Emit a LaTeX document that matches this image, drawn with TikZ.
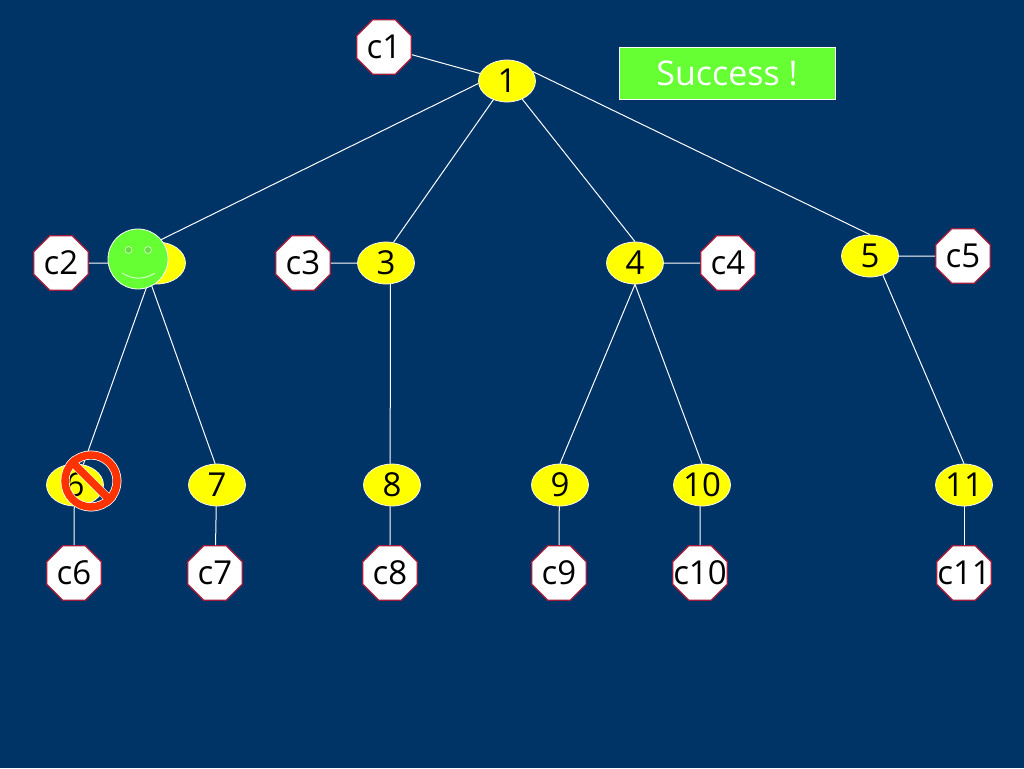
\documentclass[tikz,border=0pt]{standalone}
\usepackage{fontspec}
\setmainfont{Open Sans}
\usetikzlibrary{positioning}
\usetikzlibrary{shapes.geometric}
\definecolor{slidebg}{HTML}{003366}
\definecolor{okgreen}{HTML}{66FF33}
\definecolor{eyegreen}{HTML}{66DD44}
\definecolor{peeryellow}{HTML}{FFFF00}
\definecolor{stopred}{HTML}{FF3300}
\definecolor{clientred}{HTML}{A01C3C}
\newcommand{\widelabel}[1]{\makebox[20pt]{#1}}
\tikzset{
  peer/.style={ellipse,draw=white,line width=0.7pt,fill=peeryellow,text=black,
    minimum width=57pt,minimum height=42pt,inner sep=0pt,font=\fontsize{33}{33}\selectfont},
  client/.style={regular polygon,regular polygon sides=8,draw=clientred,line width=1.4pt,
    fill=white,text=black,minimum size=59pt,inner sep=0pt,font=\fontsize{33}{33}\selectfont},
  link/.style={draw=white,line width=1pt},
  stopring/.style={circle,minimum size=52pt,inner sep=0pt}
}

\begin{document}
\begin{tikzpicture}[x=1pt,y=-1pt,on grid]
    \fill[slidebg] (0,0) rectangle (1024,768);
    \useasboundingbox (0,0) rectangle (1024,768);

    \node[peer] (n1) at (507,81) {1};
    \node[peer,below left = 182pt and 350pt of n1] (n2) {};
    \node[peer,below left = 182pt and 121pt of n1] (n3) {3};
    \node[peer,below right = 182pt and 128pt of n1] (n4) {4};
    \node[peer,below right = 175pt and 363pt of n1] (n5) {5};
    \node[peer,below left = 222pt and 82pt of n2] (n6) {6};
    \node[peer,below right = 222pt and 60pt of n2] (n7) {7};
    \node[peer,below right = 222pt and 6pt of n3] (n8) {8};
    \node[peer,below left = 222pt and 75pt of n4] (n9) {9};
    \node[peer,below right = 222pt and 67pt of n4] (n10) {10};
    \node[peer,below right = 229pt and 94pt of n5] (n11) {11};

    \node[client,above left = 34pt and 123pt of n1] (c1) {c1};
    \node[client,left = 96pt of n2] (c2) {c2};
    \node[client,left = 83pt of n3] (c3) {c3};
    \node[client,right = 93pt of n4] (c4) {c4};
    \node[client,right = 93pt of n5] (c5) {c5};
    \node[client,below left = 88pt and 1pt of n6] (c6) {c6};
    \node[client,below left = 88pt and 2pt of n7] (c7) {c7};
    \node[client,below left = 88pt and 2pt of n8] (c8) {c8};
    \node[client,below left = 88pt and 1pt of n9] (c9) {c9};
    \node[client,below left = 88pt and 2pt of n10] (c10) {\widelabel{c10}};
    \node[client,below = 88pt of n11] (c11) {\widelabel{c11}};

    \node[draw=white,line width=0.7pt,fill=okgreen,text=white,minimum width=216pt,minimum height=52pt,
      inner sep=0pt,font=\fontsize{34}{34}\selectfont] (success) at (727,73) {Success !};

    \draw[link] (c1) edge (n1);
    \draw[link] (n1.185) edge (n2.north);
    \draw[link] (n1.234) edge (n3.70);
    \draw[link] (n1.-50) edge (n4.north);
    \draw[link] (n1.20) edge (n5.north);
    \draw[link] (c2) edge (n2);
    \draw[link] (c3) edge (n3);
    \draw[link] (c4) edge (n4);
    \draw[link] (c5) edge (n5);
    \draw[link] (n2.-114) edge (n6.68);
    \draw[link] (n2.-106) edge (n7.95);
    \draw[link] (n3.-78) edge (n8.95);
    \draw[link] (n4.south) edge (n9.north);
    \draw[link] (n4.south) edge (n10.north);
    \draw[link] (n5.-56) edge (n11.north);
    \draw[link] (n6.-92) edge (c6);
    \draw[link] (n7.-92) edge (c7);
    \draw[link] (n8.-95) edge (c8);
    \draw[link] (n9.-92) edge (c9);
    \draw[link] (n10.-95) edge (c10);
    \draw[link] (n11) edge (c11);

    \node[circle,draw=white,line width=0.8pt,fill=okgreen,minimum size=60pt,inner sep=0pt,
      left = 19pt of n2,yshift=4pt] (smiley) {};
    \node[circle,draw=white!60!okgreen,fill=eyegreen,line width=0.8pt,minimum size=7pt,inner sep=0pt,
      above left = 9pt and 9.5pt of smiley] (eyel) {};
    \node[circle,draw=white!60!okgreen,fill=eyegreen,line width=0.8pt,minimum size=7pt,inner sep=0pt,
      above right = 9pt and 10pt of smiley] (eyer) {};
    \coordinate[below left = 14pt and 16pt of smiley] (mouthl);
    \coordinate[below right = 14pt and 17pt of smiley] (mouthr);
    \draw[white!70!okgreen,line width=1pt] (mouthl) to[bend right=32] (mouthr);

    \node[stopring,draw=white,line width=9pt,above right = 4pt and 16pt of n6] (stop) {};
    \draw[white,line width=8.5pt] (stop.135) -- (stop.-45);
    \node[stopring,draw=stopred,line width=7.5pt,above right = 4pt and 16pt of n6] (stoptop) {};
    \draw[stopred,line width=7.5pt] (stoptop.135) -- (stoptop.-45);
\end{tikzpicture}
\end{document}
